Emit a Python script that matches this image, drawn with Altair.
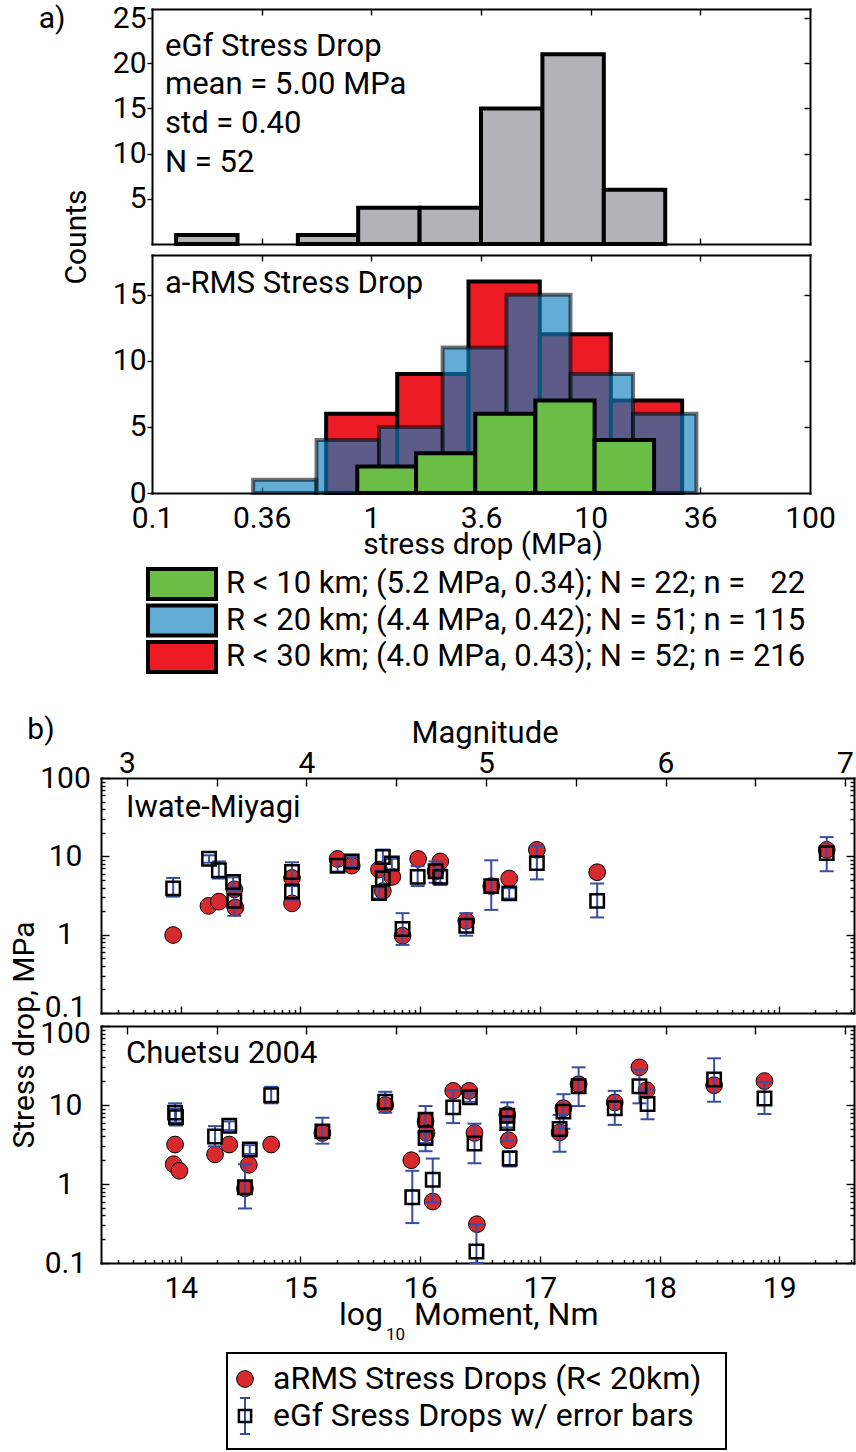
import altair as alt
import numpy as np
import pandas as pd

W, H = 856, 1452
FONT = "Roboto"
FS = 30

# ---------------- panel a data: histogram bins (log10 of stress drop, MPa) ----------------
EGF_LO = [-0.89, -0.335, -0.06, 0.22, 0.50, 0.78, 1.06]
EGF_HI = [-0.61, -0.06, 0.22, 0.50, 0.78, 1.06, 1.34]
EGF_N = [1, 1, 4, 4, 15, 21, 6]

R30_LO = [-0.206, 0.118, 0.443, 0.768, 1.092]
R30_HI = [0.118, 0.443, 0.768, 1.092, 1.417]
R30_N = [6, 9, 16, 12, 7]

R20_LO = [-0.539, -0.250, 0.035, 0.325, 0.616, 0.908, 1.193]
R20_HI = [-0.250, 0.035, 0.325, 0.616, 0.908, 1.193, 1.482]
R20_N = [1, 4, 5, 11, 15, 9, 6]

R10_LO = [-0.064, 0.204, 0.474, 0.748, 1.018]
R10_HI = [0.204, 0.474, 0.748, 1.018, 1.289]
R10_N = [2, 3, 6, 7, 4]

LEG_A_LABELS = [
    "R < 10 km; (5.2 MPa, 0.34); N = 22; n = \u200722",
    "R < 20 km; (4.4 MPa, 0.42); N = 51; n = 115",
    "R < 30 km; (4.0 MPa, 0.43); N = 52; n = 216",
]
LEG_A_COLORS = ["#6abd45", "#63acd6", "#ed1c24"]

# ---------------- panel b data: log10 moment (Nm) and stress drop (MPa) ----------------
IM_C_LOGM = [13.936, 14.231, 14.318, 14.447, 14.456, 14.929, 14.929, 15.31, 15.428, 15.656, 15.688,
             15.767, 15.853, 15.983, 16.129, 16.168, 16.385, 16.594, 16.744, 16.975, 17.479, 19.397]
IM_C_SD = [0.99, 2.33, 2.64, 3.79, 2.22, 5.3, 2.51, 9.25, 7.6, 6.77, 3.6,
           5.47, 0.97, 9.25, 6.45, 8.6, 1.5, 4.17, 5.2, 12.1, 6.27, 12.1]

IM_S_LOGM = [13.936, 14.236, 14.318, 14.437, 14.447, 14.929, 14.929, 15.31, 15.428, 15.688, 15.763, 15.688,
             15.656, 15.853, 15.979, 16.129, 16.168, 16.385, 16.594, 16.744, 16.975, 17.479, 19.397]
IM_S_SD = [3.9, 9.3, 6.65, 4.7, 2.7, 6.3, 3.55, 7.6, 8.6, 9.8, 8.1, 5.2,
           3.4, 1.18, 5.47, 6.45, 5.47, 1.3, 4.17, 3.37, 8.2, 2.7, 11.0]
IM_S_LO = [3.06, 8.3, 5.2, 4.0, 1.74, 4.17, 2.8, 6.4, 7.3, 8.0, 6.8, 4.1,
           2.9, 0.74, 4.17, 4.6, 4.3, 0.97, 2.07, 2.9, 5.07, 1.66, 6.45]
IM_S_HI = [5.3, 10.3, 8.6, 5.4, 3.6, 8.4, 4.4, 9.3, 9.8, 12.2, 9.3, 6.6,
           4.0, 1.88, 7.5, 8.6, 6.8, 1.88, 8.9, 3.9, 13.6, 4.5, 17.6]

CH_C_LOGM = [13.952, 13.94, 13.988, 14.286, 14.405, 14.536, 14.568, 14.755, 15.183, 15.708, 15.926, 16.045,
             16.053, 16.105, 16.276, 16.41, 16.454, 16.474, 16.728, 16.74, 17.165, 17.197, 17.324, 17.626,
             17.832, 17.892, 18.456, 18.877]
CH_C_SD = [3.16, 1.78, 1.47, 2.37, 3.16, 0.88, 1.75, 3.16, 4.43, 10.0, 2.0, 6.2,
           4.43, 0.6, 15.1, 15.1, 4.43, 0.31, 7.5, 3.58, 4.5, 9.1, 18.3, 10.8,
           30.0, 15.4, 17.8, 20.1]

CH_S_LOGM = [13.952, 13.96, 14.286, 14.405, 14.536, 14.576, 14.755, 15.183, 15.708, 15.934, 16.045, 16.045,
             16.105, 16.276, 16.415, 16.454, 16.47, 16.728, 16.728, 16.748, 17.165, 17.197, 17.324, 17.626,
             17.832, 17.9, 18.456, 18.877]
CH_S_SD = [8.0, 7.0, 4.0, 5.46, 0.91, 2.74, 13.3, 4.64, 11.0, 0.68, 6.5, 3.83,
           1.13, 9.34, 12.5, 3.25, 0.14, 7.3, 5.9, 2.1, 4.96, 8.25, 17.3, 9.1,
           17.3, 10.3, 21.0, 12.1]
CH_S_LO = [6.0, 5.5, 3.0, 4.8, 0.49, 2.4, 10.5, 3.24, 8.0, 0.32, 2.6, 3.3,
           0.59, 5.9, 11.0, 1.83, 0.1, 3.5, 5.2, 1.67, 2.56, 5.0, 9.7, 5.6,
           10.5, 6.6, 11.0, 7.7]
CH_S_HI = [10.5, 9.0, 5.4, 6.2, 1.78, 3.1, 17.0, 6.9, 14.7, 1.47, 9.7, 4.4,
           2.1, 15.4, 14.0, 5.8, 0.31, 10.8, 6.6, 2.6, 7.5, 13.7, 30.0, 15.1,
           28.0, 15.7, 39.0, 19.6]

LEG_B_LABELS = ["aRMS Stress Drops (R< 20km)", "eGf Sress Drops w/ error bars"]

# ---------------- colours ----------------
GRAY = "#b1b3b6"
RED = "#ed1c24"
BLUE = "#0f80c0"
GREEN = "#6abd45"
PT_RED = "#d62a2e"
EB_BLUE = "#3a4da2"

# ---------------- scale specs: (domain, pixel range, type) ----------------
HX = ([-1, 2], [152, 810], "linear")
H1Y = ([0, 26], [244, 9], "linear")
H2Y = ([0, 18], [493, 255], "linear")
BX = ([13.333, 19.625], [101, 854], "linear")
BM = ([2.8553, 7.05], [101, 854], "linear")
B1Y = ([0.1, 100], [1013, 778], "log")
B2Y = ([0.1, 100], [1263, 1026], "log")


def mk(spec):
    dom, rng, typ = spec
    if typ == "log":
        return alt.Scale(type="log", domain=dom, range=rng, nice=False)
    return alt.Scale(type=typ, domain=dom, range=rng, nice=False, zero=False)


def tick_ax(orient, offset, values, size, domain=True):
    return alt.Axis(orient=orient, offset=offset, values=values, labels=False, ticks=True,
                    tickSize=size, tickWidth=1.4, tickColor="black", domain=domain,
                    domainColor="black", domainWidth=2, domainCap="square", grid=False, title=None)


def lab_ax(orient, offset, values, pad, expr, align=None, baseline=None, ticks=0, domain=False,
           label_offset=None):
    kw = dict(orient=orient, offset=offset, values=values, labels=True, grid=False, title=None,
              labelPadding=pad, labelFont=FONT, labelFontSize=FS, labelColor="black",
              labelFlush=False, labelOverlap=False, labelExpr=expr, domain=domain,
              domainColor="black", domainWidth=2, domainCap="square")
    if ticks:
        kw.update(ticks=True, tickSize=ticks, tickWidth=1.4, tickColor="black")
    else:
        kw.update(ticks=False, tickSize=0)
    if align:
        kw["labelAlign"] = align
    if baseline:
        kw["labelBaseline"] = baseline
    if label_offset is not None:
        kw["labelOffset"] = label_offset
    return alt.Axis(**kw)


def axes_layer(xspec, yspec, xaxis, yaxis):
    d = pd.DataFrame({"x": [xspec[0][0]], "y": [yspec[0][0]]})
    return alt.Chart(d).mark_point(opacity=0).encode(
        x=alt.X("x:Q", scale=mk(xspec), axis=xaxis),
        y=alt.Y("y:Q", scale=mk(yspec), axis=yaxis),
    )


def txt(s, x, y, size=FS, align="left", baseline="alphabetic", angle=0):
    return alt.Chart(pd.DataFrame({"t": [s]})).mark_text(
        x=x, y=y, align=align, baseline=baseline, angle=angle, font=FONT, fontSize=size, color="black"
    ).encode(text="t:N")


def hist(lo, hi, n, yspec, **mark):
    d = pd.DataFrame({"lo": lo, "hi": hi, "n": n, "base": [0] * len(n)})
    return alt.Chart(d).mark_rect(**mark).encode(
        x=alt.X("lo:Q", scale=mk(HX), axis=None), x2="hi:Q",
        y=alt.Y("n:Q", scale=mk(yspec), axis=None), y2="base:Q",
    )


layers = []

# ----- axes / frames for histograms -----
HX_TICKS = [-1, -0.5, 0, 0.5, 1, 1.5, 2]
HX_EXPR = ("datum.value < -0.75 ? '0.1' : datum.value < -0.25 ? '0.36' : datum.value < 0.25 ? '1' : "
           "datum.value < 0.75 ? '3.6' : datum.value < 1.25 ? '10' : datum.value < 1.75 ? '36' : '100'")
for yspec, yvals, show_x in [(H1Y, [5, 10, 15, 20, 25], False), (H2Y, [0, 5, 10, 15], True)]:
    yb, yt = yspec[1]
    x0, x1 = HX[1]
    layers.append(axes_layer(
        HX, yspec,
        lab_ax("bottom", yb - H, HX_TICKS, 34, HX_EXPR, baseline="alphabetic") if show_x else None,
        lab_ax("left", -x0, yvals, 1, "format(datum.value, 'd')", ticks=5, domain=True),
    ))
    layers.append(axes_layer(HX, yspec, tick_ax("top", -yb, HX_TICKS[1:-1], 6),
                             tick_ax("left", -x1, [v for v in yvals if v > 0], 6)))
    layers.append(axes_layer(HX, yspec, tick_ax("bottom", yt - H, HX_TICKS[1:-1], 6), None))

# ----- histogram bars -----
layers.append(hist(EGF_LO, EGF_HI, EGF_N, H1Y, fill=GRAY, stroke="black", strokeWidth=4))
layers.append(hist(R30_LO, R30_HI, R30_N, H2Y, fill=RED, stroke="black", strokeWidth=4))
layers.append(hist(R20_LO, R20_HI, R20_N, H2Y, fill=BLUE, fillOpacity=0.65, stroke="black",
                   strokeOpacity=0.55, strokeWidth=4))
layers.append(hist(R10_LO, R10_HI, R10_N, H2Y, fill=GREEN, stroke="black", strokeWidth=4))

# ----- axes / frames for panel b -----
DEC = [0.1, 1, 10, 100]
YMINOR = [k * 10.0 ** e for e in (-1, 0, 1) for k in range(2, 10)]
XMAJ = [14, 15, 16, 17, 18, 19]
XMINOR = [round(e + np.log10(k), 4) for e in range(13, 20) for k in range(2, 10)
          if BX[0][0] < e + np.log10(k) < BX[0][1]]
MW_HALF = [3 + 0.5 * i for i in range(9)]
Y_EXPR = "datum.value < 0.5 ? '0.1' : format(datum.value, 'd')"

for yspec, bottom_labels, top_labels, lab_off in [
    (B1Y, False, True, {"condition": {"test": "datum.value < 0.5", "value": -6}, "value": 0}),
    (B2Y, True, False, {"condition": {"test": "datum.value > 50", "value": 7}, "value": 0}),
]:
    yb, yt = yspec[1]
    x0, x1 = BX[1]
    layers.append(axes_layer(BX, yspec, tick_ax("top", -yb, XMAJ, 7), tick_ax("right", x0 - W, DEC, 8)))
    layers.append(axes_layer(BX, yspec, tick_ax("top", -yb, XMINOR, 3.5, domain=False),
                             tick_ax("right", x0 - W, YMINOR, 4, domain=False)))
    layers.append(axes_layer(BM, yspec, tick_ax("bottom", yt - H, MW_HALF, 8), tick_ax("left", -x1, DEC, 8)))
    if top_labels:
        xa = lab_ax("top", -yt, [3, 4, 5, 6, 7], 6, "format(datum.value, 'd')", baseline="alphabetic")
        layers.append(axes_layer(BM, yspec, xa, tick_ax("left", -x1, YMINOR, 4, domain=False)))
    else:
        xa = lab_ax("bottom", yb - H, XMAJ, 34, "format(datum.value, 'd')", baseline="alphabetic")
        layers.append(axes_layer(BX, yspec, xa, tick_ax("left", -x1, YMINOR, 4, domain=False)))
    layers.append(axes_layer(BX, yspec, None,
                             lab_ax("left", -x0, DEC, 36, Y_EXPR, align="center", label_offset=lab_off)))


def scatter_panel(yspec, c_logm, c_sd, s_logm, s_sd, s_lo, s_hi):
    cd = pd.DataFrame({"m": c_logm, "s": c_sd})
    sd = pd.DataFrame({"m": s_logm, "s": s_sd, "lo": s_lo, "hi": s_hi})
    X = alt.X("m:Q", scale=mk(BX), axis=None)
    out = [
        alt.Chart(cd).mark_point(shape="circle", filled=True, fill=PT_RED, stroke="black",
                                 strokeWidth=1, size=280, opacity=1).encode(
            x=X, y=alt.Y("s:Q", scale=mk(yspec), axis=None)),
        alt.Chart(sd).mark_rule(color=EB_BLUE, strokeWidth=2).encode(
            x=X, y=alt.Y("lo:Q", scale=mk(yspec), axis=None), y2="hi:Q"),
        alt.Chart(sd).mark_tick(orient="horizontal", size=14, thickness=2, color=EB_BLUE, opacity=1).encode(
            x=X, y=alt.Y("lo:Q", scale=mk(yspec), axis=None)),
        alt.Chart(sd).mark_tick(orient="horizontal", size=14, thickness=2, color=EB_BLUE, opacity=1).encode(
            x=X, y=alt.Y("hi:Q", scale=mk(yspec), axis=None)),
        alt.Chart(sd).mark_point(shape="square", filled=False, stroke="black", strokeWidth=2.5,
                                 size=180, opacity=1).encode(
            x=X, y=alt.Y("s:Q", scale=mk(yspec), axis=None)),
    ]
    return out


layers += scatter_panel(B1Y, IM_C_LOGM, IM_C_SD, IM_S_LOGM, IM_S_SD, IM_S_LO, IM_S_HI)
layers += scatter_panel(B2Y, CH_C_LOGM, CH_C_SD, CH_S_LOGM, CH_S_SD, CH_S_LO, CH_S_HI)

# ----- legend for panel a -----
legA = pd.DataFrame({"label": LEG_A_LABELS, "color": LEG_A_COLORS})
LA_Y = alt.Y("label:N", scale=alt.Scale(type="point", domain=LEG_A_LABELS, range=[584, 657], padding=0),
             axis=None, sort=None)
layers.append(alt.Chart(legA).mark_point(shape="M-1,-0.44H1V0.44H-1Z", size=4624, filled=True,
                                         stroke="black", strokeWidth=4, opacity=1).encode(
    x=alt.value(182), y=LA_Y, fill=alt.Fill("color:N", scale=None)))
layers.append(alt.Chart(legA).mark_text(align="left", baseline="middle", font=FONT, fontSize=31,
                                        color="black").encode(x=alt.value(226), y=LA_Y, text="label:N"))

# ----- legend for panel b -----
legB = pd.DataFrame({"label": LEG_B_LABELS})
LB_Y = alt.Y("label:N", scale=alt.Scale(type="point", domain=LEG_B_LABELS, range=[1379, 1416], padding=0),
             axis=None, sort=None)
layers.append(alt.Chart(legB).mark_rect(filled=False, stroke="black", strokeWidth=2).encode(
    x=alt.value(227), x2=alt.value(726), y=alt.value(1353), y2=alt.value(1449)))
layers.append(alt.Chart(legB.iloc[[0]]).mark_point(shape="circle", filled=True, fill=PT_RED, stroke="black",
                                                   strokeWidth=1, size=280, opacity=1).encode(
    x=alt.value(245), y=LB_Y))
layers.append(alt.Chart(legB.iloc[[1]]).mark_point(shape="M0,-1V1M-0.28,-1H0.28M-0.28,1H0.28", filled=False,
                                                   stroke=EB_BLUE, strokeWidth=2, size=1296, opacity=1).encode(
    x=alt.value(245), y=LB_Y))
layers.append(alt.Chart(legB.iloc[[1]]).mark_point(shape="square", filled=False, stroke="black",
                                                   strokeWidth=2.5, size=150, opacity=1).encode(
    x=alt.value(245), y=LB_Y))
layers.append(alt.Chart(legB).mark_text(align="left", baseline="middle", font=FONT, fontSize=32,
                                        color="black").encode(x=alt.value(273), y=LB_Y, text="label:N"))

# ----- titles and annotations -----
layers += [
    txt("a)", 52, 28, align="center"),
    txt("b)", 41, 739, align="center"),
    txt("eGf Stress Drop", 165, 56, size=31),
    txt("mean = 5.00 MPa", 165, 94, size=31),
    txt("std = 0.40", 165, 133, size=31),
    txt("N = 52", 165, 172, size=31),
    txt("a-RMS Stress Drop", 165, 293, size=31),
    txt("Counts", 77, 237, align="center", baseline="middle", angle=270),
    txt("stress drop (MPa)", 483, 554, align="center"),
    txt("Magnitude", 485, 743, align="center", size=31),
    txt("Iwate-Miyagi", 126, 817, size=31),
    txt("Chuetsu 2004", 126, 1063, size=31),
    txt("Stress drop, MPa", 25, 1035, align="center", baseline="middle", angle=270),
    txt("log", 383, 1325, align="right", size=32),
    txt("10", 386, 1340, size=17),
    txt("Moment, Nm", 414, 1325, size=32),
]

chart = alt.layer(*layers).resolve_scale(x="independent", y="independent").resolve_axis(
    x="independent", y="independent"
).properties(
    width=W, height=H, autosize=alt.AutoSizeParams(type="none"), padding=0, background="white"
).configure_view(stroke=None)

chart.save("out.html", embed_options={"renderer": "svg", "actions": False})
